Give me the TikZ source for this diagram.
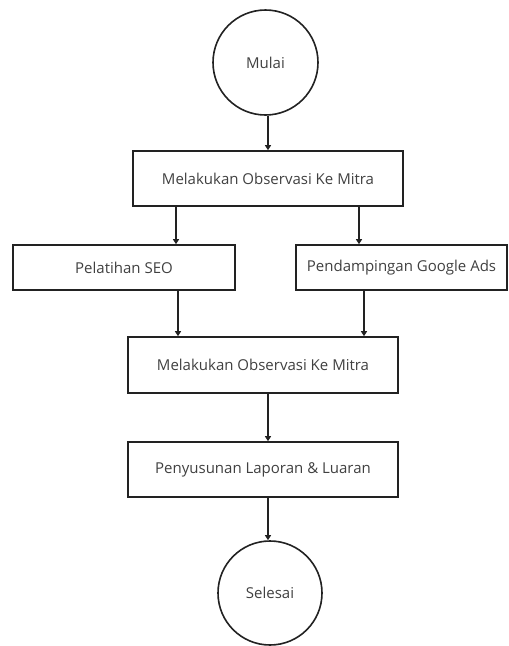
\documentclass[tikz,border=0pt]{standalone}
\usepackage{fontspec}
\setmainfont{Open Sans}
\usetikzlibrary{arrows.meta}
\definecolor{txt}{HTML}{404040}
\definecolor{ln}{HTML}{222222}
\tikzset{
  box/.style={draw=ln, line width=1.6pt, rectangle, inner sep=0pt, text=txt, font=\fontsize{15pt}{17pt}\selectfont},
  term/.style={draw=ln, line width=1.6pt, circle, inner sep=0pt, text=txt, font=\fontsize{15pt}{17pt}\selectfont},
  arr/.style={draw=ln, line width=1.6pt, -{Triangle[length=5pt,width=6pt]}}
}
\begin{document}
\begin{tikzpicture}[x=1pt,y=-1pt]
\useasboundingbox (0,0) rectangle (509,646);
\node[term, minimum size=105pt] (start) at (265.5,62.5) {Mulai};
\node[box, minimum width=270pt, minimum height=55pt] (obs1) at (268,178.5) {Melakukan Observasi Ke Mitra};
\node[box, minimum width=222pt, minimum height=45pt] (seo) at (124,267.5) {Pelatihan SEO};
\node[box, minimum width=211pt, minimum height=45pt] (ads) at (401.5,267.5) {Pendampingan Google Ads};
\node[box, minimum width=270pt, minimum height=56pt] (obs2) at (263,365) {Melakukan Observasi Ke Mitra};
\node[box, minimum width=270pt, minimum height=55pt] (lap) at (263,469.5) {Penyusunan Laporan \& Luaran};
\node[term, minimum size=104pt] (end) at (270,593) {Selesai};
\coordinate (a1) at (268,115);
\draw[arr] (start.south -| a1) -- (obs1.north -| a1);
\coordinate (a2) at (176,0);
\coordinate (a3) at (359,0);
\draw[arr] (obs1.south -| a2) -- (seo.north -| a2);
\draw[arr] (obs1.south -| a3) -- (ads.north -| a3);
\coordinate (a4) at (178,0);
\coordinate (a5) at (364,0);
\draw[arr] (seo.south -| a4) -- (obs2.north -| a4);
\draw[arr] (ads.south -| a5) -- (obs2.north -| a5);
\coordinate (a6) at (268,0);
\draw[arr] (obs2.south -| a6) -- (lap.north -| a6);
\draw[arr] (lap.south -| a6) -- (end.north -| a6);
\end{tikzpicture}
\end{document}
